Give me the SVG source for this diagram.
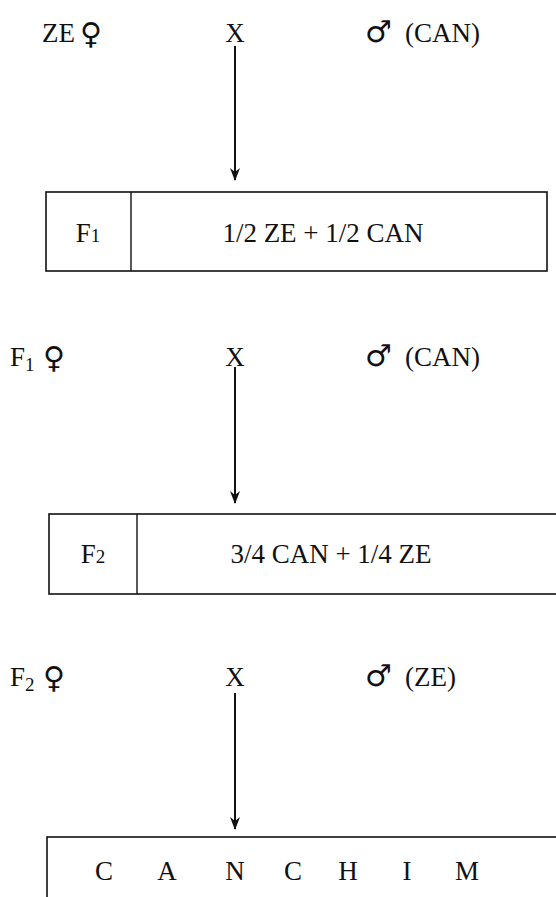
<svg xmlns="http://www.w3.org/2000/svg" width="556" height="897" viewBox="0 0 556 897">
<defs>
<style>
text{font-family:"Liberation Serif","Times New Roman",serif;font-size:27px;fill:#111}
.sym{font-family:"DejaVu Sans",sans-serif;font-size:30px}
.sub{font-size:19px}
.box{fill:#fff;stroke:#111;stroke-width:1.6}
.div{stroke:#111;stroke-width:1.4}
.conn{stroke:#111;stroke-width:2;fill:none;marker-end:url(#ah)}
</style>
<marker id="ah" viewBox="0 0 13 10" refX="12" refY="5" markerWidth="13" markerHeight="10" markerUnits="userSpaceOnUse" orient="auto">
<path d="M0,0 L13,5 L0,10 L4,5 Z" fill="#111"/>
</marker>
</defs>
<rect width="556" height="897" fill="#fff"/>

<g id="row1">
<text x="42" y="42">ZE</text>
<text class="sym" x="80" y="44">♀</text>
<text x="235" y="42" text-anchor="middle">X</text>
<text class="sym" x="365" y="42">♂</text>
<text x="405" y="42">(CAN)</text>
</g>

<g id="box1">
<rect class="box" x="46" y="192" width="501" height="79"/>
<line class="div" x1="131" y1="192" x2="131" y2="271"/>
<text x="88" y="242" text-anchor="middle">F<tspan class="sub">1</tspan></text>
<text x="323" y="242" text-anchor="middle">1/2 ZE + 1/2 CAN</text>
</g>

<g id="row2">
<text x="10" y="366">F<tspan class="sub" dy="5">1</tspan></text>
<text class="sym" x="43" y="368">♀</text>
<text x="235" y="366" text-anchor="middle">X</text>
<text class="sym" x="365" y="366">♂</text>
<text x="405" y="366">(CAN)</text>
</g>

<g id="box2">
<rect class="box" x="49" y="514" width="520" height="80"/>
<line class="div" x1="137" y1="514" x2="137" y2="594"/>
<text x="93" y="563" text-anchor="middle">F<tspan class="sub">2</tspan></text>
<text x="331" y="563" text-anchor="middle">3/4 CAN + 1/4 ZE</text>
</g>

<g id="row3">
<text x="10" y="686">F<tspan class="sub" dy="5">2</tspan></text>
<text class="sym" x="43" y="688">♀</text>
<text x="235" y="686" text-anchor="middle">X</text>
<text class="sym" x="365" y="686">♂</text>
<text x="405" y="686">(ZE)</text>
</g>

<g id="box3">
<rect class="box" x="47" y="837" width="520" height="80"/>
<text x="104" y="880" text-anchor="middle">C</text>
<text x="167" y="880" text-anchor="middle">A</text>
<text x="235" y="880" text-anchor="middle">N</text>
<text x="293" y="880" text-anchor="middle">C</text>
<text x="348" y="880" text-anchor="middle">H</text>
<text x="407" y="880" text-anchor="middle">I</text>
<text x="467" y="880" text-anchor="middle">M</text>
</g>

<g id="connectors">
<line class="conn" x1="235" y1="46" x2="235" y2="180"/>
<line class="conn" x1="235" y1="367" x2="235" y2="503"/>
<line class="conn" x1="235" y1="693" x2="235" y2="829"/>
</g>
</svg>
